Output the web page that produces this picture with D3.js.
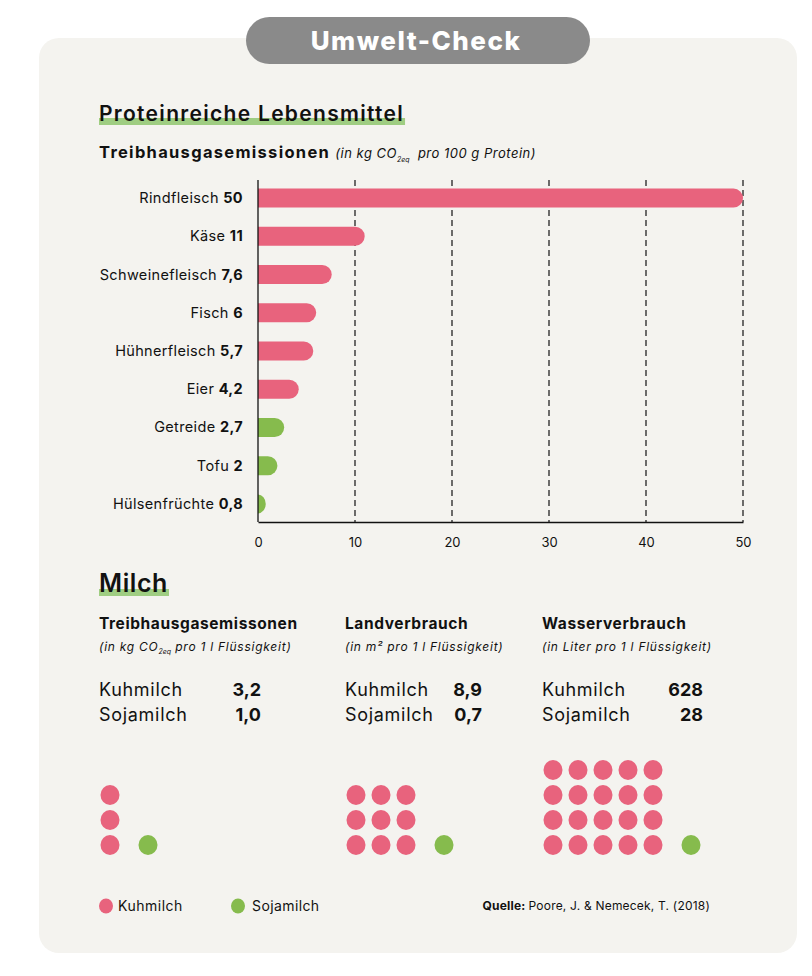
<!DOCTYPE html>
<html><head><meta charset="utf-8">
<script src="https://cdn.jsdelivr.net/npm/d3@7"></script>
<style>
html,body{margin:0;padding:0;background:#fff;}
svg{display:block;font-family:Inter,"Open Sans",sans-serif;}
</style></head>
<body>
<svg id="c" width="812" height="976"></svg>
<script>
const categories = ["Rindfleisch","Käse","Schweinefleisch","Fisch","Hühnerfleisch","Eier","Getreide","Tofu","Hülsenfrüchte"];
const valueLabels = ["50","11","7,6","6","5,7","4,2","2,7","2","0,8"];
const values = [50, 11, 7.6, 6, 5.7, 4.2, 2.7, 2, 0.8];
const plantBased = [false,false,false,false,false,false,true,true,true];
const xTicks = [0,10,20,30,40,50];

const milkMetrics = ["Treibhausgasemissonen","Landverbrauch","Wasserverbrauch"];
const milkUnitsPre = ["(in kg CO","(in m² pro 1 l Flüssigkeit)","(in Liter pro 1 l Flüssigkeit)"];
const milkUnitsSub = ["2eq","",""];
const milkUnitsPost = [" pro 1 l Flüssigkeit)","",""];
const kuhValues = ["3,2","8,9","628"];
const sojaValues = ["1,0","0,7","28"];
const kuhDots = [3, 9, 20];
const sojaDots = [1, 1, 1];
const dotCols = [1, 3, 5];

(function(){
const PINK = "#e8637d", GREEN = "#86bb4d", HL = "#9fcd82";
const svg = d3.select("#c");

svg.append("rect").attr("x",39).attr("y",38).attr("width",758).attr("height",915).attr("rx",20).attr("fill","#f4f3ef");
svg.append("rect").attr("x",246).attr("y",17).attr("width",344).attr("height",47).attr("rx",23.5).attr("fill","#8a8a8a");
svg.append("text").attr("x",416).attr("y",50).attr("text-anchor","middle").attr("fill","#fff")
  .attr("font-size",26).attr("font-weight",800).attr("letter-spacing",1.5).text("Umwelt-Check");

function highlightTitle(x, y, size, ls, text){
  const t = svg.append("text").attr("x",x).attr("y",y).attr("font-size",size).attr("font-weight",600)
    .attr("letter-spacing",ls).attr("fill","#111").text(text);
  const w = t.node().getComputedTextLength();
  svg.insert("rect", () => t.node()).attr("x",x).attr("y",y-3).attr("width",w+1).attr("height",7).attr("fill",HL);
}
highlightTitle(99, 121, 21, 1.3, "Proteinreiche Lebensmittel");

const sub = svg.append("text").attr("x",99).attr("y",158).attr("fill","#111");
sub.append("tspan").attr("font-weight",700).attr("font-size",16.5).attr("letter-spacing",1.3).text("Treibhausgasemissionen ");
sub.append("tspan").attr("font-style","italic").attr("font-size",13).attr("letter-spacing",0.5).text("(in kg CO");
sub.append("tspan").attr("font-style","italic").attr("font-size",7).attr("dy",4).text("2eq");
sub.append("tspan").attr("font-style","italic").attr("font-size",13).attr("letter-spacing",0.5).attr("dy",-4).attr("xml:space","preserve").text("\u00a0\u00a0pro 100 g Protein)");

const x = d3.scaleLinear().domain([0,50]).range([258,743]);
const y = d3.scaleBand().domain(categories).range([178,522]).paddingInner(0.5).paddingOuter(0.25);
const g = svg.append("g");
const yTop = 180, yBottom = 522;
xTicks.filter(d=>d>0).forEach(d=>{
  g.append("line").attr("x1",x(d)).attr("x2",x(d)).attr("y1",yTop).attr("y2",yBottom)
   .attr("stroke","#111").attr("stroke-width",1.2).attr("stroke-dasharray","6,4");
});
const bh = 19;
categories.forEach((c,i)=>{
  const x0 = x(0), x1 = x(values[i]);
  const w = x1 - x0, r = Math.min(bh/2, w);
  const yc = y(c) + y.bandwidth()/2 + 1;
  const yt = yc - bh/2;
  const p = `M${x0},${yt} H${x1-r} A${r},${bh/2} 0 0 1 ${x1},${yc} A${r},${bh/2} 0 0 1 ${x1-r},${yt+bh} H${x0} Z`;
  g.append("path").attr("d",p).attr("fill",plantBased[i]?GREEN:PINK);
  const t = g.append("text").attr("x",243).attr("y",yc+5).attr("text-anchor","end").attr("font-size",14.5)
    .attr("letter-spacing",0.35).attr("fill","#111");
  t.append("tspan").text(c+" ");
  t.append("tspan").attr("font-weight",700).text(valueLabels[i]);
});
g.append("line").attr("x1",x(0)).attr("x2",x(0)).attr("y1",yTop).attr("y2",yBottom).attr("stroke","#111").attr("stroke-width",1.3);
const axis = d3.axisBottom(x).tickValues(xTicks).tickSize(0).tickPadding(16).tickFormat(d3.format("d"));
const ax = svg.append("g").attr("transform",`translate(0,${yBottom})`).call(axis);
ax.select(".domain").attr("stroke","#111").attr("stroke-width",1.3);
ax.selectAll("text").attr("font-size",13).attr("fill","#111").attr("font-family","Inter,sans-serif");

highlightTitle(99, 592, 25, 0.6, "Milch");
const colX = [99, 345, 542];
const valRight = [261, 482, 703];
milkMetrics.forEach((m,i)=>{
  svg.append("text").attr("x",colX[i]).attr("y",629).attr("font-size",15.5).attr("font-weight",700)
    .attr("letter-spacing",0.6).attr("fill","#111").text(m);
  const u = svg.append("text").attr("x",colX[i]).attr("y",651).attr("font-size",12).attr("font-style","italic")
    .attr("letter-spacing",0.75).attr("fill","#111");
  u.append("tspan").text(milkUnitsPre[i]);
  if (milkUnitsSub[i]) {
    u.append("tspan").attr("font-size",7).attr("dy",3).attr("letter-spacing",0).text(milkUnitsSub[i]);
    u.append("tspan").attr("dy",-3).text(milkUnitsPost[i]);
  }
  svg.append("text").attr("x",colX[i]).attr("y",696).attr("font-size",18).attr("letter-spacing",0.7).attr("fill","#111").text("Kuhmilch");
  svg.append("text").attr("x",colX[i]).attr("y",721).attr("font-size",18).attr("letter-spacing",0.7).attr("fill","#111").text("Sojamilch");
  svg.append("text").attr("x",valRight[i]).attr("y",696).attr("text-anchor","end").attr("font-size",18).attr("font-weight",700).attr("fill","#111").text(kuhValues[i]);
  svg.append("text").attr("x",valRight[i]).attr("y",721).attr("text-anchor","end").attr("font-size",18).attr("font-weight",700).attr("fill","#111").text(sojaValues[i]);
  const n = kuhDots[i], cols = dotCols[i], rows = Math.ceil(n/cols);
  const step = 25, baseY = 845, x0 = colX[i] + 11;
  for(let k=0;k<n;k++){
    const col = k % cols, row = Math.floor(k/cols);
    svg.append("ellipse").attr("cx",x0+col*step).attr("cy",baseY-(rows-1-row)*step).attr("rx",9.5).attr("ry",10).attr("fill",PINK);
  }
  for(let k=0;k<sojaDots[i];k++){
    svg.append("ellipse").attr("cx",x0+(cols-1)*step+38+k*step).attr("cy",baseY).attr("rx",9.5).attr("ry",10).attr("fill",GREEN);
  }
});

svg.append("ellipse").attr("cx",106).attr("cy",906).attr("rx",7).attr("ry",7.5).attr("fill",PINK);
svg.append("text").attr("x",118).attr("y",911).attr("font-size",14).attr("letter-spacing",0.5).attr("fill","#111").text("Kuhmilch");
svg.append("ellipse").attr("cx",238).attr("cy",906).attr("rx",7).attr("ry",7.5).attr("fill",GREEN);
svg.append("text").attr("x",252).attr("y",911).attr("font-size",14).attr("letter-spacing",0.4).attr("fill","#111").text("Sojamilch");
const src = svg.append("text").attr("x",710).attr("y",910).attr("text-anchor","end").attr("font-size",12).attr("letter-spacing",0.2).attr("fill","#111");
src.append("tspan").attr("font-weight",700).text("Quelle: ");
src.append("tspan").text("Poore, J. & Nemecek, T. (2018)");
})();
</script>
</body></html>
